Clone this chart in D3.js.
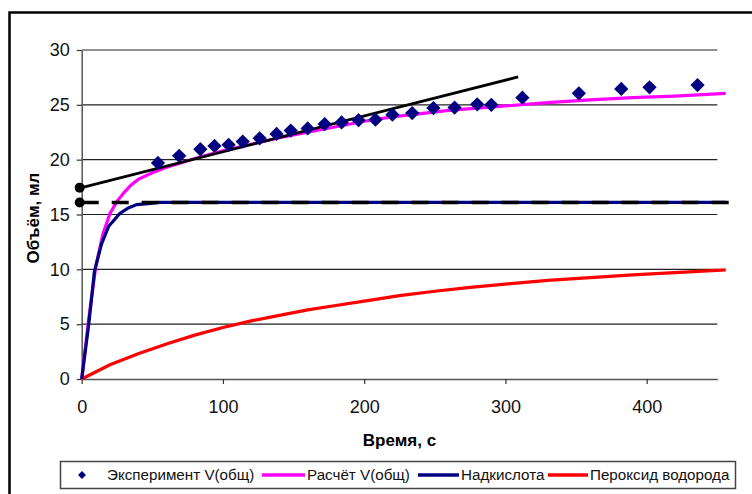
<!DOCTYPE html>
<html><head><meta charset="utf-8">
<script src="https://cdn.jsdelivr.net/npm/d3@7"></script>
<style>body{margin:0;background:#fff}svg{display:block;font-family:"Liberation Sans",Arial,sans-serif}</style>
</head><body><svg id="c" width="752" height="494"></svg>
<script>
// Experimental data
const expT = [54, 69, 84, 94, 104, 114, 126, 138, 148, 160, 172, 184, 196, 208, 220, 234, 249, 264, 280, 290, 312, 352, 382, 402, 436];
const expV = [19.7, 20.35, 20.95, 21.25, 21.35, 21.65, 21.95, 22.35, 22.65, 22.85, 23.25, 23.4, 23.6, 23.65, 24.1, 24.25, 24.7, 24.75, 25.05, 25.0, 25.65, 26.05, 26.45, 26.6, 26.8];
// Calculated total volume
const calcT = [0, 5, 10, 15, 20, 25, 30, 35, 40, 50, 60, 70, 80, 100, 120, 140, 160, 180, 200, 220, 240, 260, 280, 300, 330, 360, 390, 420, 456];
const calcV = [0, 5.5, 10.3, 13.2, 15.1, 16.2, 17.0, 17.7, 18.2, 18.8, 19.3, 19.7, 20.1, 20.8, 21.4, 22.0, 22.5, 23.0, 23.5, 23.9, 24.2, 24.5, 24.7, 24.9, 25.2, 25.45, 25.65, 25.8, 26.05];
// Peracid
const acidT = [0, 5, 9, 14, 19, 27, 33, 39, 47, 55, 100, 200, 300, 400, 456];
const acidV = [0, 5.0, 9.8, 12.3, 13.9, 15.1, 15.6, 15.9, 16.0, 16.1, 16.1, 16.1, 16.1, 16.1, 16.1];
// Hydrogen peroxide
const perT = [0, 20, 40, 60, 80, 100, 120, 140, 160, 180, 200, 225, 250, 275, 300, 330, 360, 390, 420, 456];
const perV = [0, 1.3, 2.3, 3.2, 4.0, 4.7, 5.3, 5.8, 6.3, 6.7, 7.1, 7.6, 8.0, 8.35, 8.65, 9.0, 9.25, 9.5, 9.7, 9.95];
// Tangent line and asymptote (annotation lines)
const tangentT = [0, 309];
const tangentV = [17.45, 27.55];
const asympT = [0, 462];
const asympV = [16.1, 16.1];
const xTicks = [0, 100, 200, 300, 400];
const yTicks = [0, 5, 10, 15, 20, 25, 30];
const legendLabels = ["Эксперимент V(общ)", "Расчёт V(общ)", "Надкислота", "Пероксид водорода"];

const svg = d3.select("#c");
const x = d3.scaleLinear().domain([0, 450]).range([81.7, 717.3]);
const y = d3.scaleLinear().domain([0, 30]).range([379, 50]);

svg.append("rect").attr("x", 9.5).attr("y", 12.5).attr("width", 800).attr("height", 600)
  .attr("fill", "none").attr("stroke", "#000").attr("stroke-width", 2.5);

// gridlines
svg.append("g").selectAll("line").data(yTicks.filter(d => d > 0)).join("line")
  .attr("x1", x(0)).attr("x2", x(450)).attr("y1", d => y(d)).attr("y2", d => y(d))
  .attr("stroke", "#222").attr("stroke-width", 1.2);

// axes
const fs = 18;
const ax = svg.append("g").attr("transform", `translate(0,${y(0)})`)
  .call(d3.axisBottom(x).tickValues(xTicks).tickSize(5).tickPadding(16).tickSizeOuter(0));
const ay = svg.append("g").attr("transform", `translate(${x(0)},0)`)
  .call(d3.axisLeft(y).tickValues(yTicks).tickSize(5).tickPadding(7).tickSizeOuter(0));
[ax, ay].forEach(g => {
  g.select(".domain").attr("stroke", "#555").attr("stroke-width", 1.5);
  g.selectAll(".tick line").attr("stroke", "#333").attr("stroke-width", 1.2);
  g.selectAll(".tick text").attr("font-size", fs).attr("fill", "#111").attr("font-family", "Liberation Sans, Arial, sans-serif");
});

// lines
const line = d3.line().x(d => x(d[0])).y(d => y(d[1]));
const zip = (a, b) => a.map((v, i) => [v, b[i]]);
svg.append("path").datum(zip(perT, perV)).attr("d", line).attr("fill", "none").attr("stroke", "#ff0000").attr("stroke-width", 3.2);
svg.append("path").datum(zip(calcT, calcV)).attr("d", line).attr("fill", "none").attr("stroke", "#ff00ff").attr("stroke-width", 3.2);
svg.append("path").datum(zip(acidT, acidV)).attr("d", line).attr("fill", "none").attr("stroke", "#000080").attr("stroke-width", 3.2);
svg.append("path").datum(zip(asympT, asympV)).attr("d", line).attr("fill", "none").attr("stroke", "#000").attr("stroke-width", 3.4).attr("stroke-dasharray", "17,13");
svg.append("path").datum(zip(tangentT, tangentV)).attr("d", line).attr("fill", "none").attr("stroke", "#000").attr("stroke-width", 2.8);
svg.append("circle").attr("cx", x(asympT[0]) - 2).attr("cy", y(asympV[0])).attr("r", 5).attr("fill", "#000");
svg.append("circle").attr("cx", x(tangentT[0]) - 2).attr("cy", y(tangentV[0])).attr("r", 5).attr("fill", "#000");

// diamonds
const diamond = d3.symbol().type(d3.symbolDiamond2).size(130);
svg.append("g").selectAll("path").data(zip(expT, expV)).join("path")
  .attr("transform", d => `translate(${x(d[0])},${y(d[1])})`)
  .attr("d", diamond).attr("fill", "#000080");

// axis titles
svg.append("text").attr("x", x(225)).attr("y", 446).attr("text-anchor", "middle")
  .attr("font-size", 17).attr("font-weight", "bold").text("Время, с");
svg.append("text").attr("transform", `translate(39,218) rotate(-90)`).attr("text-anchor", "middle")
  .attr("font-size", 17).attr("font-weight", "bold").text("Объём, мл");

// legend
const lg = svg.append("g");
lg.append("rect").attr("x", 60.5).attr("y", 461.5).attr("width", 675).attr("height", 27)
  .attr("fill", "#fff").attr("stroke", "#444").attr("stroke-width", 1.5);
const ly = 475;
lg.append("path").attr("transform", `translate(82,${ly})`).attr("d", d3.symbol().type(d3.symbolDiamond2).size(40)).attr("fill", "#000080");
const items = [
  {tx: 107, l1: null, l2: null, c: null},
  {tx: 307, l1: 262, l2: 305, c: "#ff00ff"},
  {tx: 461, l1: 418, l2: 459, c: "#000080"},
  {tx: 590, l1: 548, l2: 588, c: "#ff0000"}
];
items.forEach((it, i) => {
  if (it.c) lg.append("line").attr("x1", it.l1).attr("x2", it.l2).attr("y1", ly).attr("y2", ly).attr("stroke", it.c).attr("stroke-width", 3.5);
  lg.append("text").attr("x", it.tx).attr("y", ly + 5).attr("font-size", 15.2).attr("fill", "#111").text(legendLabels[i]);
});
</script></body></html>
